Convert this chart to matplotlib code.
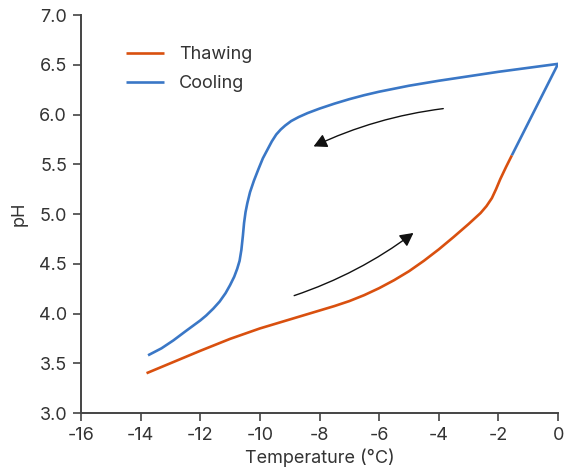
import matplotlib
matplotlib.use("Agg")
import matplotlib.pyplot as plt
from matplotlib.ticker import MultipleLocator

plt.rcParams['font.family'] = ['Inter', 'DejaVu Sans']
plt.rcParams['axes.unicode_minus'] = False

# readings
thaw_t = [-13.8, -13.0, -12.0, -11.0, -10.0, -9.0, -8.0, -7.5, -7.0, -6.5,
          -6.0, -5.5, -5.0, -4.5, -4.0, -3.5, -3.0, -2.6, -2.4, -2.22,
          -2.08, -1.94, -1.75, -1.55]
thaw_ph = [3.40, 3.50, 3.625, 3.745, 3.85, 3.94, 4.03, 4.075, 4.125, 4.185,
           4.255, 4.335, 4.425, 4.53, 4.645, 4.77, 4.90, 5.01, 5.08, 5.16,
           5.25, 5.35, 5.47, 5.59]

cool_t = [-1.55, 0.0, -1.0, -2.0, -3.0, -4.0, -5.0, -6.0, -6.5, -7.0, -7.5,
          -8.0, -8.4, -8.7, -8.95, -9.15, -9.3, -9.45, -9.6, -9.75, -9.9,
          -10.05, -10.2, -10.33, -10.42, -10.48, -10.53, -10.57, -10.62,
          -10.68, -10.76, -10.86, -11.0, -11.15, -11.35, -11.56, -11.8, -12.0,
          -12.5, -12.9, -13.3, -13.75]
cool_ph = [5.59, 6.51, 6.47, 6.43, 6.385, 6.34, 6.29, 6.23, 6.195, 6.155, 6.11,
           6.06, 6.015, 5.975, 5.935, 5.89, 5.85, 5.80, 5.73, 5.645, 5.56,
           5.45, 5.335, 5.22, 5.11, 5.02, 4.91, 4.78, 4.64,
           4.53, 4.45, 4.37, 4.285, 4.205, 4.12, 4.05, 3.98, 3.93,
           3.82, 3.73, 3.65, 3.58]

# direction arrows (start, end)
arrow_up = ((-8.85, 4.18), (-4.85, 4.81))
arrow_down = ((-3.85, 6.06), (-8.2, 5.68))

c_thaw = '#d9500f'
c_cool = '#3a77c6'
ink = '#333333'

fig = plt.figure(figsize=(5.66, 4.72), dpi=100)
ax = fig.add_axes([0.143, 0.125, 0.843, 0.843])

ax.plot(thaw_t, thaw_ph, color=c_thaw, lw=1.9, label='Thawing',
        solid_capstyle='butt', solid_joinstyle='round')
ax.plot(cool_t, cool_ph, color=c_cool, lw=1.9, label='Cooling',
        solid_capstyle='butt', solid_joinstyle='round')

for (a, b), rad in [(arrow_up, 0.08), (arrow_down, 0.08)]:
    ax.annotate('', xy=b, xytext=a,
                arrowprops=dict(arrowstyle='-|>,head_length=0.8,head_width=0.42',
                                mutation_scale=10, color='#111111', lw=1.0,
                                shrinkA=0, shrinkB=0,
                                connectionstyle=f'arc3,rad={rad}'))

ax.set_xlim(-16, 0)
ax.set_ylim(3.0, 7.0)
ax.xaxis.set_major_locator(MultipleLocator(2))
ax.yaxis.set_major_locator(MultipleLocator(0.5))
ax.yaxis.set_major_formatter(plt.FormatStrFormatter('%.1f'))

for s in ['top', 'right']:
    ax.spines[s].set_visible(False)
for s in ['left', 'bottom']:
    ax.spines[s].set_color('#444444')
    ax.spines[s].set_linewidth(1.4)
ax.tick_params(direction='out', length=6, width=1.2, color='#444444',
               labelsize=13, labelcolor=ink, pad=4)

ax.set_xlabel('Temperature (°C)', fontsize=13, color=ink, labelpad=3)
ax.set_ylabel('pH', fontsize=13, color=ink, labelpad=8)

ax.legend(loc='upper left', bbox_to_anchor=(0.061, 0.962), frameon=False,
          fontsize=13, handlelength=2.1, handletextpad=0.8, labelspacing=0.65,
          labelcolor=ink)

fig.savefig('out.png', dpi=100)
